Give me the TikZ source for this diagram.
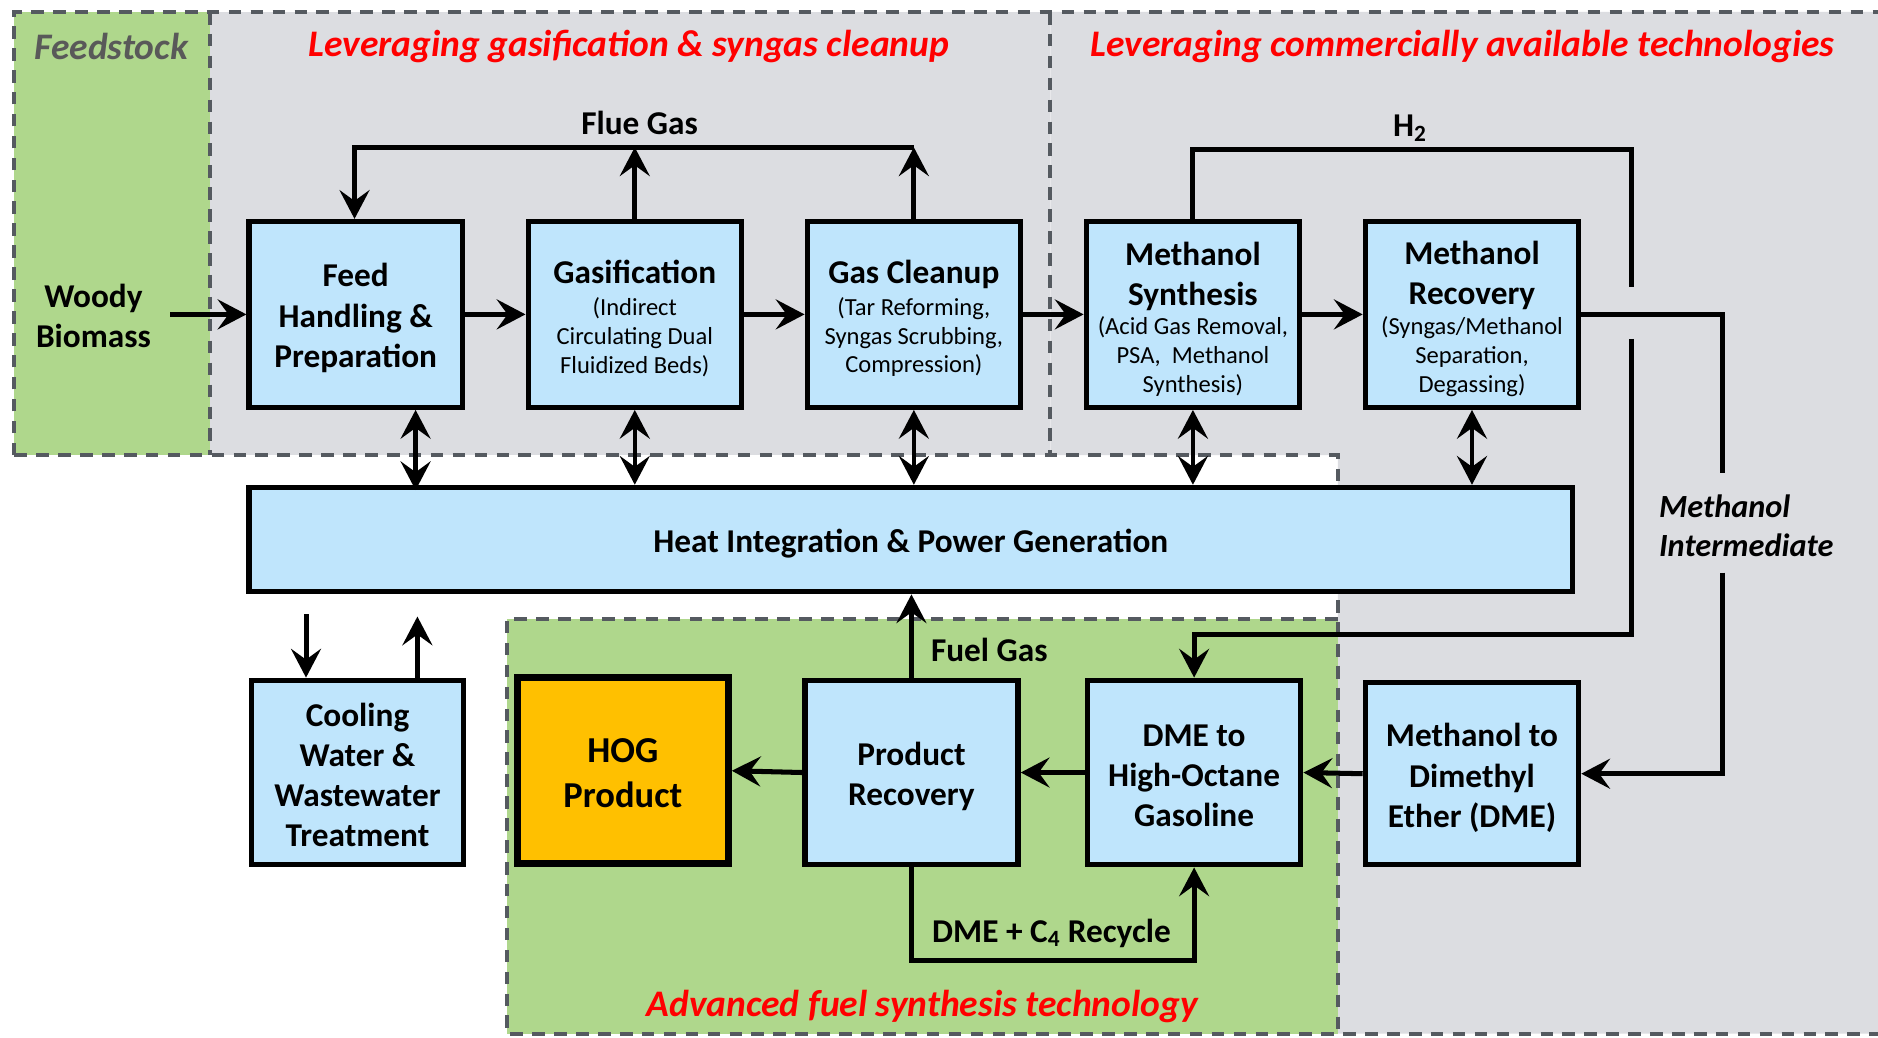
\documentclass[tikz,border=0pt]{standalone}
\usepackage{fontspec}
\setmainfont{Carlito}
\usetikzlibrary{arrows.meta,calc}
\definecolor{boxblue}{HTML}{BFE5FC}
\definecolor{zonegreen}{HTML}{AFD78C}
\definecolor{zonegray}{HTML}{DCDDE1}
\definecolor{hogorange}{HTML}{FFC000}
\definecolor{framegray}{HTML}{555A60}
\definecolor{feedtext}{HTML}{595959}
\newcommand\ttlfont{\fontsize{27.8}{33.5}\selectfont\bfseries}
\newcommand\subfont{\fontsize{20.5}{24}\selectfont\mdseries}
\newcommand\headfont{\fontsize{31.3}{36}\selectfont\bfseries\itshape}
\begin{document}
\begin{tikzpicture}[x=1pt,y=-1pt,
  box/.style={draw=black, line width=4.5pt, fill=boxblue, minimum width=178pt, minimum height=155pt, inner sep=0pt},
  boxtext/.style={font=\ttlfont, align=center, inner sep=0pt},
  zone/.style={draw=framegray, line width=3.4pt, dash pattern=on 10.5pt off 7.8pt},
  lab/.style={font=\ttlfont, align=center, inner sep=0pt},
  head/.style={font=\headfont, text=red, inner sep=0pt},
  tip/.tip={Stealth[length=24pt,width=25pt,inset=9pt]},
  arr/.style={line width=4.2pt, -tip},
  darr/.style={line width=3.8pt, tip-tip},
  flow/.style={line width=4.2pt}]
\useasboundingbox (0,0) rectangle (1568,866);
\fill[white] (0,0) rectangle (1568,866);
% zones
\fill[zonegreen] (12,10) rectangle (175,380);
\fill[zonegray] (175,10) rectangle (877,380);
\fill[zonegray] (877,10) -- (1580,10) -- (1580,863) -- (1117,863) -- (1117,380) -- (877,380) -- cycle;
\fill[zonegreen] (423,517) rectangle (1117,863);
\draw[zone] (12,380) -- (12,10) -- (1580,10);
\draw[zone] (12,380) -- (1117,380) -- (1117,863);
\draw[zone] (175,10) -- (175,380);
\draw[zone] (877,10) -- (877,380);
\draw[zone] (1117,517) -- (423,517) -- (423,863) -- (1580,863);
% headings
\node[head, text=feedtext] (hfeed) at (93,39) {Feedstock};
\node[head] (hgas) at (525,39) {Leveraging gasification \& syngas cleanup};
\node[head] (hcom) at (1221,39) {Leveraging commercially available technologies};
\node[head] (hadv) at (770,840) {Advanced fuel synthesis technology};
% boxes
\node[box] (feed) at (297,262.5) {};
\node[box] (gasi) at (530,262.5) {};
\node[box] (clean) at (763,262.5) {};
\node[box] (msyn) at (996,262.5) {};
\node[box] (mrec) at (1229,262.5) {};
\node[box, minimum width=1105pt, minimum height=87pt] (heat) at (760.5,450.5) {};
\node[box, minimum width=177pt, minimum height=154pt] (cool) at (298.5,645) {};
\node[box, fill=hogorange, line width=6pt, minimum width=176pt, minimum height=155pt] (hog) at (520,643.5) {};
\node[box, minimum height=154pt] (prec) at (761,645) {};
\node[box, minimum height=154pt] (dme) at (997,645) {};
\node[box, minimum height=152pt] (mtod) at (1229,646) {};
% box texts
\node[boxtext] (feedT) at ($(feed.center)+(0,3)$) {Feed\\Handling \&\\Preparation};
\node[boxtext] (gasiT) at ($(gasi.center)+(0,3.5)$) {Gasification\\[-7pt]{\subfont (Indirect}\\[-9.5pt]{\subfont Circulating Dual}\\[-9.5pt]{\subfont Fluidized Beds)}};
\node[boxtext] (cleanT) at ($(clean.center)+(0,3.5)$) {Gas Cleanup\\[-7pt]{\subfont (Tar Reforming,}\\[-9.5pt]{\subfont Syngas Scrubbing,}\\[-9.5pt]{\subfont Compression)}};
\node[boxtext] (msynT) at ($(msyn.center)+(0,4)$) {Methanol\\Synthesis\\[-9pt]{\subfont (Acid Gas Removal,}\\[-9.5pt]{\subfont PSA,~ Methanol}\\[-9.5pt]{\subfont Synthesis)}};
\node[boxtext] (mrecT) at ($(mrec.center)+(0,3.5)$) {Methanol\\Recovery\\[-8pt]{\subfont (Syngas/Methanol}\\[-9.5pt]{\subfont Separation,}\\[-9.5pt]{\subfont Degassing)}};
\node[boxtext] (heatT) at ($(heat.center)+(0,3)$) {Heat Integration \& Power Generation};
\node[boxtext] (coolT) at ($(cool.center)+(0,2)$) {Cooling\\Water \&\\Wastewater\\Treatment};
\node[boxtext, font=\fontsize{30.5}{37}\selectfont\bfseries] (hogT) at ($(hog.center)+(0,2)$) {HOG\\Product};
\node[boxtext] (precT) at ($(prec.center)+(0,3.5)$) {Product\\Recovery};
\node[boxtext] (dmeT) at ($(dme.center)+(0,3)$) {DME to\\High-Octane\\Gasoline};
\node[boxtext] (mtodT) at ($(mtod.center)+(0,3.5)$) {Methanol to\\Dimethyl\\Ether (DME)};
% labels
\node[lab, inner xsep=16pt] (woody) at (78,264) {Woody\\Biomass};
\node[lab] (flue) at (534,103) {Flue Gas};
\node[lab] (h2) at (1177,107) {H\textsubscript{2}};
\node[lab] (fuel) at (826,543) {Fuel Gas};
\node[lab] (recy) at (878,779) {DME + C\textsubscript{4} Recycle};
\node[lab, anchor=west, align=left, font=\fontsize{27}{32}\selectfont\bfseries\itshape] (mint) at (1385,439) {Methanol\\Intermediate};
% coordinates
\coordinate (flueL) at (296,123);
\coordinate (flueR) at (763,123);
\coordinate (h2c) at (1362,125);
\coordinate (hopTop) at (1362,240);
\coordinate (hopBot) at (1362,283);
\coordinate (h2d) at (1362,530);
\coordinate (mi2) at (1438,395);
\coordinate (mi3) at (1438,478);
% main flow
\draw[arr] (woody.east |- feed.west) -- (feed.west);
\draw[arr] (feed.east) -- (gasi.west);
\draw[arr] (gasi.east) -- (clean.west);
\draw[arr] (clean.east) -- (msyn.west);
\draw[arr] (msyn.east) -- (mrec.west);
% flue gas loop
\draw[arr] (gasi.north) -- (gasi.north |- flueL);
\draw[arr] (clean.north) -- (flueR);
\draw[arr, line join=miter] (flueR) -- (flueL) -- (flueL |- feed.north);
% heat integration links
\draw[darr] ($(feed.south)+(50,0)$) -- ($(feed.south)+(50,67)$);
\draw[darr] (gasi.south) -- (gasi.south |- heat.north);
\draw[darr] (clean.south) -- (clean.south |- heat.north);
\draw[darr] (msyn.south) -- (msyn.south |- heat.north);
\draw[darr] (mrec.south) -- (mrec.south |- heat.north);
% cooling water
\draw[arr] ($(cool.north)+(-43,-53)$) -- ($(cool.north)+(-43,0)$);
\draw[arr] ($(cool.north)+(50,0)$) -- ($(cool.north)+(50,-51)$);
% H2 line
\draw[flow, line join=miter] (msyn.north) -- (msyn.north |- h2c) -- (h2c) -- (hopTop);
\draw[arr, line join=miter] (hopBot) -- (h2d) -| (dme.north);
% methanol intermediate
\draw[flow, line join=miter] (mrec.east) -| (mi2);
\draw[arr, line join=miter] (mi3) |- (mtod.east);
% bottom flow
\draw[arr] (mtod.west) -- (dme.east);
\draw[arr] (dme.west) -- (prec.east);
\draw[arr] (prec.west) -- (hog.east);
\draw[arr] (prec.north) -- (prec.north |- heat.south);
\draw[arr, line join=miter] (prec.south) -- ++(0,78) -| (dme.south);
\end{tikzpicture}
\end{document}
